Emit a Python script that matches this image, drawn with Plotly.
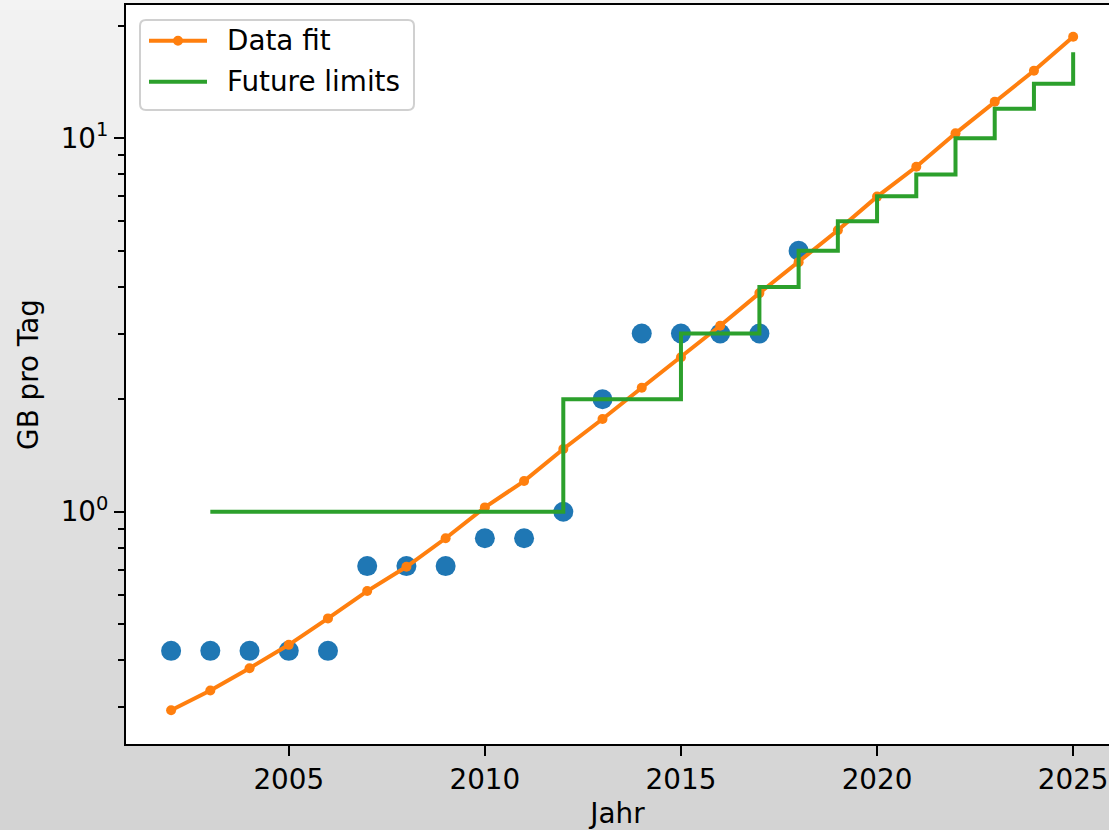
import plotly.graph_objects as go

# Observed daily volume (GB per day) per year
obs_years = list(range(2002, 2019))
obs_gb = [0.424, 0.424, 0.424, 0.424, 0.424, 0.715, 0.715, 0.715,
          0.849, 0.849, 1.0, 2.0, 3.0, 3.0, 3.0, 3.0, 5.0]

# Exponential fit evaluated for every year up to 2025
fit_years = list(range(2002, 2026))
fit_gb = [0.294, 0.332, 0.381, 0.440, 0.518, 0.613, 0.712, 0.849,
          1.027, 1.208, 1.472, 1.771, 2.148, 2.592, 3.148, 3.85,
          4.66, 5.67, 6.98, 8.39, 10.31, 12.53, 15.17, 18.71]

# Planned limits (step function, value holds from the given year on)
limit_years = list(range(2003, 2026))
limit_gb = [1, 1, 1, 1, 1, 1, 1, 1, 1, 2, 2, 2, 3, 3, 4, 5, 6, 7, 8,
            10, 12, 14, 17]

x_tick_vals = [2005, 2010, 2015, 2020, 2025]
x_tick_text = ["2005", "2010", "2015", "2020", "2025"]
y_tick_vals = [1, 10]
y_tick_text = ["10<sup>0</sup>", "10<sup>1</sup>"]
y_minor_vals = [0.3, 0.4, 0.5, 0.6, 0.7, 0.8, 0.9,
                2, 3, 4, 5, 6, 7, 8, 9, 20]

legend_labels = ["Data fit", "Future limits"]

BLUE, ORANGE, GREEN = "#1f77b4", "#ff7f0e", "#2ca02c"
FONT = "DejaVu Sans"
FS = 27.8

W, H = 1109, 830
PL, PT, PR, PB = 126, 5, 1109, 744   # plot area in pixels


def fx(px):
    return (px - PL) / (PR - PL)


def fy(py):
    return (PB - py) / (PB - PT)


fig = go.Figure()
fig.add_trace(go.Scatter(x=obs_years, y=obs_gb, mode="markers",
                         marker=dict(color=BLUE, size=20, line=dict(width=0)),
                         showlegend=False))
fig.add_trace(go.Scatter(x=fit_years, y=fit_gb, mode="lines+markers",
                         line=dict(color=ORANGE, width=4),
                         marker=dict(color=ORANGE, size=10),
                         name=legend_labels[0], showlegend=False))
fig.add_trace(go.Scatter(x=limit_years, y=limit_gb, mode="lines",
                         line=dict(color=GREEN, width=4, shape="hv"),
                         name=legend_labels[1], showlegend=False))

shapes = []
# vertical grey gradient behind the figure
step = 10
for y0 in range(0, H, step):
    g = round(243 - 32 * (y0 + step / 2) / H)
    shapes.append(dict(type="rect", xref="paper", yref="paper", layer="below",
                       x0=fx(0), x1=fx(W), y0=fy(y0 + step), y1=fy(y0),
                       fillcolor=f"rgb({g},{g},{g})", line=dict(width=0)))
# white plotting area
shapes.append(dict(type="rect", xref="paper", yref="paper", layer="below",
                   x0=0, x1=1, y0=0, y1=1, fillcolor="white",
                   line=dict(width=0)))

# legend frame with rounded corners
lx0, lx1, ly0, ly1, r = 140, 414, 20, 110, 6
path = (f"M{fx(lx0 + r)},{fy(ly0)} L{fx(lx1 - r)},{fy(ly0)} "
        f"Q{fx(lx1)},{fy(ly0)} {fx(lx1)},{fy(ly0 + r)} "
        f"L{fx(lx1)},{fy(ly1 - r)} Q{fx(lx1)},{fy(ly1)} {fx(lx1 - r)},{fy(ly1)} "
        f"L{fx(lx0 + r)},{fy(ly1)} Q{fx(lx0)},{fy(ly1)} {fx(lx0)},{fy(ly1 - r)} "
        f"L{fx(lx0)},{fy(ly0 + r)} Q{fx(lx0)},{fy(ly0)} {fx(lx0 + r)},{fy(ly0)} Z")
shapes.append(dict(type="path", xref="paper", yref="paper", layer="above",
                   path=path, fillcolor="rgba(255,255,255,0.8)",
                   line=dict(color="#d0d0d0", width=2)))
rows = [(40.7, ORANGE), (81.7, GREEN)]
for ry, col in rows:
    shapes.append(dict(type="line", xref="paper", yref="paper", layer="above",
                       x0=fx(149), x1=fx(207), y0=fy(ry), y1=fy(ry),
                       line=dict(color=col, width=4)))
shapes.append(dict(type="circle", xref="paper", yref="paper", layer="above",
                   x0=fx(173), x1=fx(183), y0=fy(40.7 + 5), y1=fy(40.7 - 5),
                   fillcolor=ORANGE, line=dict(width=0)))

annotations = []
for (ry, _), label in zip(rows, legend_labels):
    annotations.append(dict(xref="paper", yref="paper", x=fx(225), y=fy(ry),
                            xanchor="left", yanchor="middle", showarrow=False,
                            text=label, font=dict(family=FONT, size=FS,
                                                  color="black")))

fig.update_layout(
    width=W, height=H,
    margin=dict(l=PL, r=W - PR, t=PT, b=H - PB, pad=0),
    paper_bgcolor="#e0e0e0", plot_bgcolor="white",
    font=dict(family=FONT, size=FS, color="black"),
    shapes=shapes, annotations=annotations, showlegend=False,
)
fig.update_xaxes(
    range=[2000.85, 2000.85 + (PR - PL) / 39.22],
    tickmode="array", tickvals=x_tick_vals, ticktext=x_tick_text,
    showgrid=False, zeroline=False,
    showline=True, linecolor="black", linewidth=2, mirror=True,
    ticks="outside", ticklen=10, tickwidth=2, tickcolor="black",
    tickfont=dict(family=FONT, size=FS, color="black"),
    title=dict(text="Jahr", standoff=8,
               font=dict(family=FONT, size=FS, color="black")),
)
fig.update_yaxes(
    type="log", range=[-0.6221, 1.357],
    tickmode="array", tickvals=y_tick_vals, ticktext=y_tick_text,
    showgrid=False, zeroline=False,
    showline=True, linecolor="black", linewidth=2, mirror=False,
    ticks="outside", ticklen=10, tickwidth=2, tickcolor="black",
    tickfont=dict(family=FONT, size=FS, color="black"),
    minor=dict(tickmode="array", tickvals=y_minor_vals, ticks="outside",
               ticklen=6, tickwidth=1.6, tickcolor="black", showgrid=False),
    title=dict(text="GB pro Tag", standoff=14,
               font=dict(family=FONT, size=FS, color="black")),
)

fig.write_html("out.html")
